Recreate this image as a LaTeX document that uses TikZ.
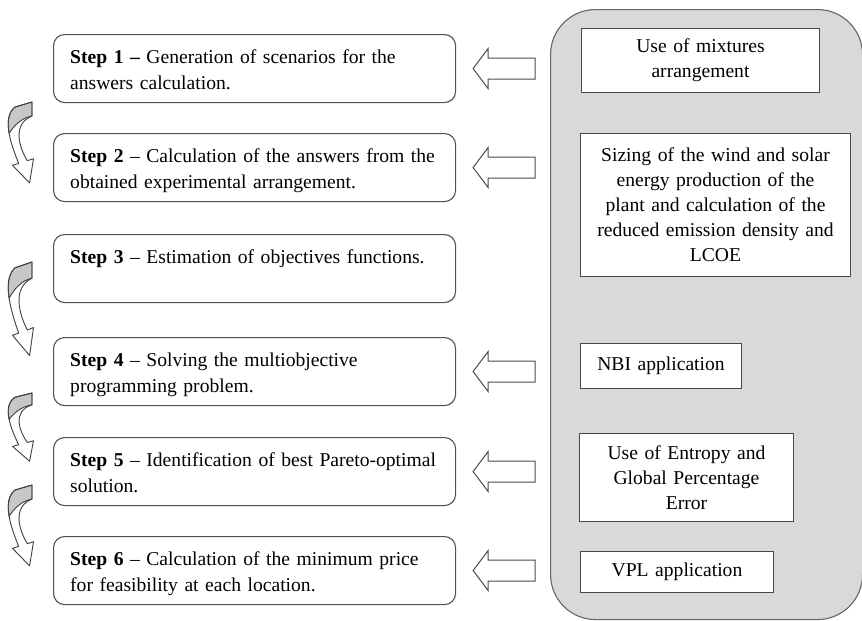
\documentclass[tikz,border=0pt]{standalone}
\usepackage{fontspec}
\setmainfont{Liberation Serif}
\newcommand\mycurvarrow[2]{%
\begin{scope}[shift={(32,#1)},yscale=#2]
 \path[curvarr,draw=none] (0,0) -- (-17,5) .. controls (-31,16) and (-20,45) .. (-13.3,61.4)
   -- (-19.5,63.3) -- (-2.4,80.9) -- (1.5,56.7) -- (-4.7,58.7)
   .. controls (-13,45) and (-20,22) .. (0,14) -- cycle;
 \filldraw[curvshade] (0,0) -- (-17,5) .. controls (-24,10.5) and (-24.75,20.5) .. (-22.9,31.2)
   .. controls (-18,24) and (-11,16) .. (0,14) -- cycle;
 \draw[curvarr,fill=none] (0,0) -- (-17,5) .. controls (-31,16) and (-20,45) .. (-13.3,61.4)
   -- (-19.5,63.3) -- (-2.4,80.9) -- (1.5,56.7) -- (-4.7,58.7)
   .. controls (-13,45) and (-20,22) .. (0,14) -- cycle;
\end{scope}}
\newcommand\myblockarrow[1]{%
\begin{scope}[shift={(#1.east)}]
 \draw[blockarr] (17,0) -- (32,-20) -- (32,-10.5) -- (79,-10.5) -- (79,10.5) -- (32,10.5) -- (32,20) -- cycle;
\end{scope}}
\begin{document}
\begin{tikzpicture}[x=1pt,y=-1pt,
 stepbox/.style={draw=black!68,line width=1.1pt,rounded corners=11pt,fill=white,minimum width=402pt,minimum height=68pt,anchor=north west,inner sep=0pt},
 steptext/.style={anchor=base west,inner sep=0pt,align=left,text width=386pt,font=\fontsize{19.6}{26}\selectfont},
 infobox/.style={draw=black!72,line width=1pt,fill=white,anchor=north west,align=center,inner sep=0pt,font=\fontsize{19.6}{25}\selectfont},
 blockarr/.style={draw=black!70,line width=1pt,fill=white,line join=miter},
 curvarr/.style={draw=black!75,line width=0.9pt,fill=white,line join=round},
 curvshade/.style={fill=black!22,draw=black!75,line width=0.9pt,line join=round}]
\useasboundingbox (0,0) rectangle (862,621);
\fill[white] (0,0) rectangle (862,621);
% right panel
\node[draw=black!60,line width=1.1pt,fill=black!15,rounded corners=45pt,minimum width=312pt,minimum height=610pt,anchor=north west,inner sep=0pt] (panel) at (550,9) {};
% step boxes
\node[stepbox] (s1) at (53,34) {};
\node[stepbox] (s2) at (53,133) {};
\node[stepbox] (s3) at (53,234) {};
\node[stepbox] (s4) at (53,337) {};
\node[stepbox] (s5) at (53,437) {};
\node[stepbox] (s6) at (53,536) {};
\node[steptext] (t1) at (70,63) {\textbf{Step 1 –} Generation of scenarios for the\\answers calculation.};
\node[steptext] (t2) at (70,162) {\textbf{Step 2} – Calculation of the answers from the\\obtained experimental arrangement.};
\node[steptext] (t3) at (70,263) {\textbf{Step 3} – Estimation of objectives functions.};
\node[steptext] (t4) at (70,366) {\textbf{Step 4} – Solving the multiobjective\\programming problem.};
\node[steptext] (t5) at (70,466) {\textbf{Step 5} – Identification of best Pareto-optimal\\solution.};
\node[steptext] (t6) at (70,565) {\textbf{Step 6} – Calculation of the minimum price\\for feasibility at each location.};
% right boxes
\node[infobox,text width=238pt,minimum height=64pt] (r1) at (581,28) {Use of mixtures\\arrangement};
\node[infobox,text width=270pt,minimum height=143pt] (r2) at (580,133) {Sizing of the wind and solar\\energy production of the\\plant and calculation of the\\reduced emission density and\\LCOE};
\node[infobox,text width=161pt,minimum height=45pt] (r3) at (580,343) {NBI application};
\node[infobox,text width=214pt,minimum height=88pt] (r4) at (579,433) {Use of Entropy and\\Global Percentage\\Error};
\node[infobox,text width=193pt,minimum height=41pt] (r5) at (580,551) {VPL application};
% block arrows
\myblockarrow{s1}
\myblockarrow{s2}
\myblockarrow{s4}
\myblockarrow{s5}
\myblockarrow{s6}
% curved arrows
\mycurvarrow{102}{1}
\mycurvarrow{262}{1.157}
\mycurvarrow{393}{0.843}
\mycurvarrow{485}{1}
\end{tikzpicture}
\end{document}
